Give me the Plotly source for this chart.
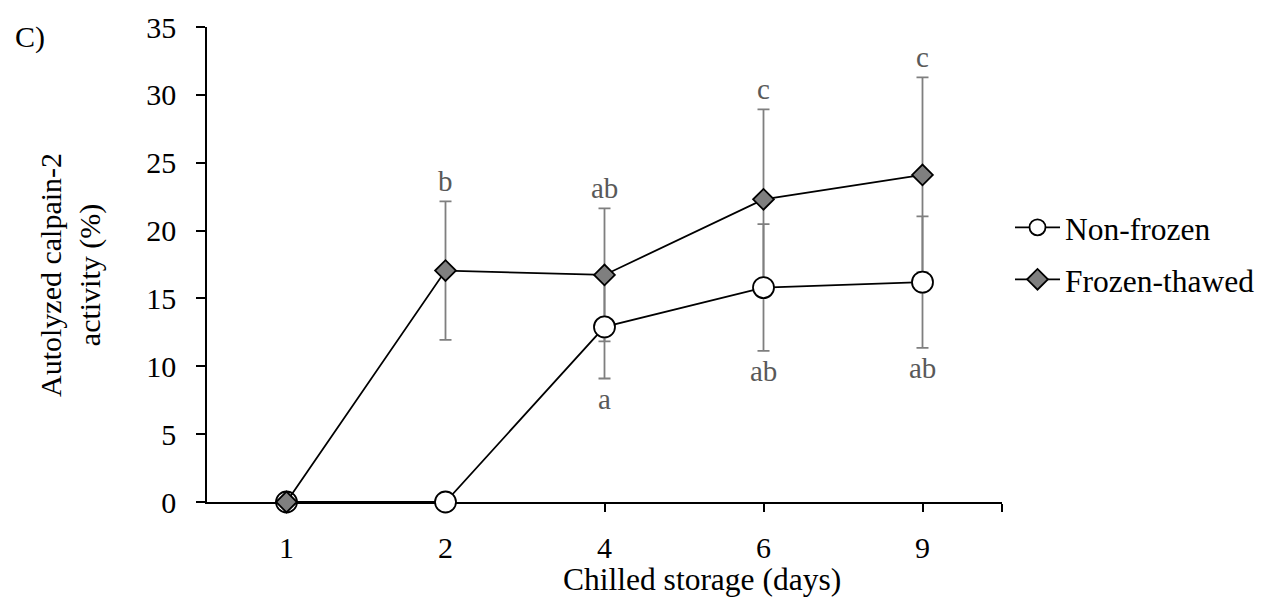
import plotly.graph_objects as go

days = ["1", "2", "4", "6", "9"]
non_frozen = [0, 0, 12.9, 15.8, 16.2]
non_frozen_err = [0, 0, 3.8, 4.67, 4.85]
frozen = [0, 17.05, 16.73, 22.3, 24.1]
frozen_err = [0, 5.1, 4.9, 6.63, 7.19]
frozen_letters = ["", "b", "ab", "c", "c"]
non_frozen_letters = ["", "", "a", "ab", "ab"]
y_ticks = [0, 5, 10, 15, 20, 25, 30, 35]

FONT = "Liberation Serif, Times New Roman, serif"
pos = list(range(len(days)))
ERR_COLOR = "#7f7f7f"
LETTER_COLOR = "#595959"

fig = go.Figure()

# error bars first (drawn under markers)
fig.add_trace(go.Scatter(
    x=pos, y=frozen, mode="markers", marker=dict(size=1, opacity=0),
    error_y=dict(type="data", array=frozen_err, color=ERR_COLOR, thickness=1.8, width=6),
    showlegend=False, hoverinfo="skip", cliponaxis=False))
fig.add_trace(go.Scatter(
    x=pos, y=non_frozen, mode="markers", marker=dict(size=1, opacity=0),
    error_y=dict(type="data", array=non_frozen_err, color=ERR_COLOR, thickness=1.8, width=6),
    showlegend=False, hoverinfo="skip", cliponaxis=False))

fig.add_trace(go.Scatter(
    x=pos, y=non_frozen, mode="lines+markers", name="Non-frozen",
    line=dict(color="black", width=1.8),
    marker=dict(symbol="circle", size=21, color="white", line=dict(color="black", width=1.8)),
    cliponaxis=False, legendgroup="a"))
fig.add_trace(go.Scatter(
    x=pos, y=frozen, mode="lines+markers", name="Frozen-thawed",
    line=dict(color="black", width=1.8),
    marker=dict(symbol="diamond", size=16, color="#7f7f7f", line=dict(color="black", width=1.8)),
    cliponaxis=False, legendgroup="b"))

annotations = []
for i in pos:
    if frozen_letters[i]:
        annotations.append(dict(
            x=i, y=frozen[i] + frozen_err[i], xref="x", yref="y", text=frozen_letters[i],
            showarrow=False, yanchor="bottom", yshift=2,
            font=dict(family=FONT, size=29, color=LETTER_COLOR)))
    if non_frozen_letters[i]:
        annotations.append(dict(
            x=i, y=non_frozen[i] - non_frozen_err[i], xref="x", yref="y", text=non_frozen_letters[i],
            showarrow=False, yanchor="top", yshift=-2,
            font=dict(family=FONT, size=29, color=LETTER_COLOR)))

# y-axis title
annotations.append(dict(
    x=0, y=(502 - 275) / 475, xref="paper", yref="paper", xanchor="center", yanchor="middle",
    xshift=-137, text="Autolyzed calpain-2<br>activity (%)", textangle=-90,
    showarrow=False, font=dict(family=FONT, size=30, color="black")))
# x-axis title
annotations.append(dict(
    x=0, y=0, xref="paper", yref="paper", xanchor="center", yanchor="middle",
    xshift=702 - 207, yshift=-(579 - 502), text="Chilled storage (days)",
    showarrow=False, font=dict(family=FONT, size=31.5, color="black")))
# panel label
annotations.append(dict(
    x=0, y=1, xref="paper", yref="paper", xanchor="left", yanchor="middle",
    xshift=13 - 207, yshift=-10, text="C)", showarrow=False,
    font=dict(family=FONT, size=30, color="black")))

fig.update_layout(
    width=1265, height=598,
    margin=dict(l=207, r=263, t=27, b=96, autoexpand=False),
    paper_bgcolor="white", plot_bgcolor="white",
    font=dict(family=FONT, size=30, color="black"),
    showlegend=True,
    legend=dict(x=1.0 + 8 / 795, y=0.635, xanchor="left", yanchor="top", itemwidth=45,
                font=dict(family=FONT, size=31.5, color="black"),
                traceorder="grouped", tracegroupgap=8, bgcolor="rgba(0,0,0,0)"),
    annotations=annotations,
    xaxis=dict(
        range=[-0.5, 4.5], tickvals=pos + [4.5], ticktext=days + [""],
        showgrid=False, zeroline=False, showline=True, linecolor="black", linewidth=1.5,
        ticks="outside", ticklen=8, tickwidth=1.5, tickcolor="black",
        ticklabelstandoff=10, layer="below traces", automargin=False,
        tickfont=dict(family=FONT, size=30, color="black")),
    yaxis=dict(
        range=[0, 35], tickvals=y_ticks, showgrid=False, zeroline=False,
        showline=True, linecolor="black", linewidth=1.5,
        ticks="outside", ticklen=9, tickwidth=1.5, tickcolor="black",
        ticklabelstandoff=14, layer="below traces", automargin=False,
        tickfont=dict(family=FONT, size=30, color="black")),
)

fig.write_html("out.html")
